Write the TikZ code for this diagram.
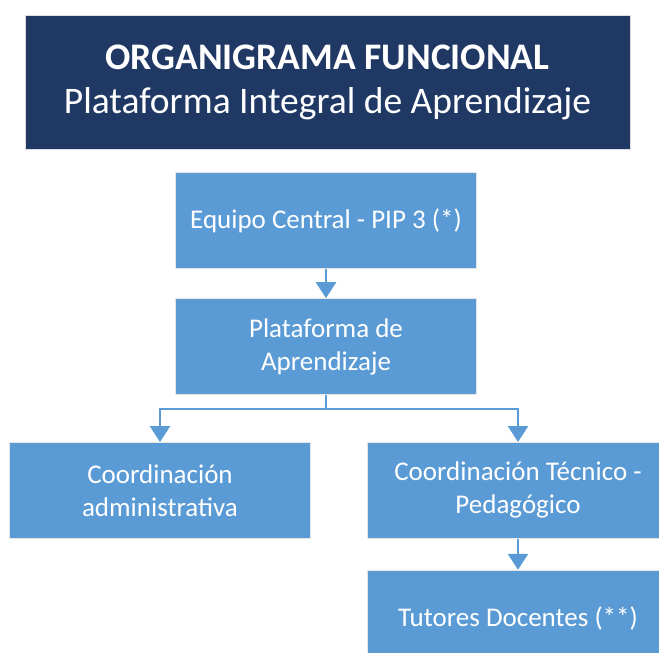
\documentclass[tikz,border=0pt]{standalone}
\usepackage{fontspec}
\setmainfont{Carlito}
\usetikzlibrary{positioning,arrows.meta}

\definecolor{navy}{HTML}{1F3864}
\definecolor{unitblue}{HTML}{5B9BD5}

\begin{document}
\begin{tikzpicture}[
    >={Triangle[length=16pt,width=20pt]},
    title/.style={rectangle, draw=white!75!gray, line width=0.8pt, fill=navy,
                  text=white, minimum width=605pt, minimum height=134pt,
                  align=center, font=\fontsize{37.5}{44}\selectfont},
    unit/.style={rectangle, draw=white!80!gray, line width=0.8pt, fill=unitblue,
                 text=white, minimum width=301pt, minimum height=96pt,
                 align=center, font=\fontsize{27}{33}\selectfont},
    link/.style={draw=unitblue, line width=2.6pt},
]
\useasboundingbox (0pt,0pt) rectangle (659pt,-653pt);

% --- header ---
\node[title] (head) at (327.5pt,-82pt)
    {\textbf{ORGANIGRAMA FUNCIONAL}\\Plataforma Integral de Aprendizaje};

% --- main chain ---
\node[unit, below=23pt of head, xshift=-1.5pt] (equipo) {Equipo Central - PIP 3 (*)};
\node[unit, below=29pt of equipo] (plat) {Plataforma de\\Aprendizaje};

\draw[link, ->] (equipo) -- (plat);

% --- coordinations ---
\node[unit, below=47pt of plat.south, anchor=north, xshift=-166pt] (admin)
    {Coordinaci\'on\\administrativa};
\node[unit, below=47pt of plat.south, anchor=north, xshift=192pt] (tecped)
    {Coordinaci\'on T\'ecnico -\\Pedag\'ogico};

\draw[link, ->] (plat.south) -- ++(0,-14pt) -| (admin.north);
\draw[link, ->] (plat.south) -- ++(0,-14pt) -| (tecped.north);

% --- tutors ---
\node[unit, below=31pt of tecped] (tutores) {Tutores Docentes (**)};
\draw[link, ->] (tecped) -- (tutores);

\end{tikzpicture}
\end{document}
